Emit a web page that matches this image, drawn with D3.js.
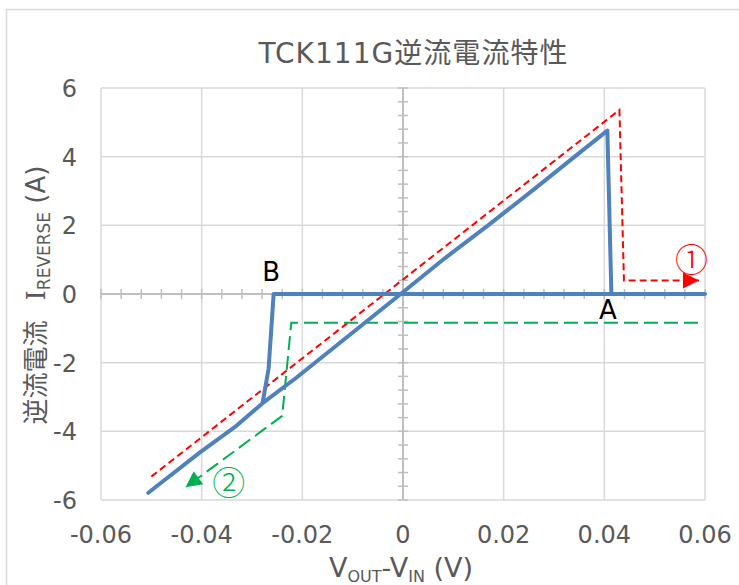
<!DOCTYPE html>
<html>
<head>
<meta charset="utf-8">
<script src="https://cdn.jsdelivr.net/npm/d3@7"></script>
<style>
  body { margin: 0; background: #fff; }
  text { font-family: "DejaVu Sans", "Noto Sans CJK JP", sans-serif; }
</style>
</head>
<body>
<script>
// data
const xTicks = [-0.06, -0.04, -0.02, 0, 0.02, 0.04, 0.06]
const yTicks = [-6, -4, -2, 0, 2, 4, 6]

// blue: measured curve, rising sweep
const riseX = [-0.0506, -0.0404, -0.0331, -0.0279, -0.0212, -0.0007, 0.0083, 0.0169, 0.0262, 0.0348, 0.0406, 0.0414, 0.06]
const riseY = [-5.79, -4.62, -3.84, -3.18, -2.44, -0.03, 1.04, 2.00, 3.07, 4.08, 4.76, 0.0, 0.0]
// blue: falling sweep branch
const fallX = [0.06, -0.0257, -0.0267, -0.0279]
const fallY = [0, 0, -2.17, -3.18]

// red dashed arrow (1)
const redX = [-0.050, 0.0430, 0.0439, 0.0588]
const redY = [-5.32, 5.36, 0.39, 0.39]
// green dashed arrow (2)
const greenX = [0.0586, -0.0222, -0.0240, -0.0432]
const greenY = [-0.84, -0.84, -3.55, -5.63]

const labelText = ['A', 'B', '①', '②']
const labelX = [0.0407, -0.0262, 0.0573, -0.0346]
const labelY = [-0.47, 0.64, 1.0, -5.52]
const labelColor = ['#000', '#000', '#ff0000', '#00b050']

draw()

function draw() {
  const width = 739
  const height = 585
  const margin = {top: 88, bottom: 85, left: 101, right: 34}

  const svg = d3.select('body').append('svg')
    .attr('width', width)
    .attr('height', height)

  // outer chart border
  svg.append('rect')
    .attr('x', 6.5).attr('y', 9.5)
    .attr('width', 760).attr('height', 600)
    .attr('fill', 'none')
    .attr('stroke', '#d9d9d9')
    .attr('stroke-width', 1.5)

  const xScale = d3.scaleLinear()
    .domain([-0.06, 0.06])
    .range([margin.left, width - margin.right])

  const yScale = d3.scaleLinear()
    .domain([-6, 6])
    .range([height - margin.bottom, margin.top])

  // grid
  svg.append('g').selectAll('line')
    .data(xTicks)
    .enter()
    .append('line')
    .attr('x1', d => xScale(d)).attr('x2', d => xScale(d))
    .attr('y1', yScale(6)).attr('y2', yScale(-6))
    .attr('stroke', '#d9d9d9').attr('stroke-width', 1.5)

  svg.append('g').selectAll('line')
    .data(yTicks)
    .enter()
    .append('line')
    .attr('x1', xScale(-0.06)).attr('x2', xScale(0.06))
    .attr('y1', d => yScale(d)).attr('y2', d => yScale(d))
    .attr('stroke', '#d9d9d9').attr('stroke-width', 1.5)

  // axes through the origin, with crossing minor ticks
  const axisColor = '#bfbfbf'
  const xMinor = d3.range(-0.06, 0.0601, 0.004)
  const yMinor = d3.range(-6, 6.01, 0.4)

  svg.append('line')
    .attr('x1', xScale(-0.06)).attr('x2', xScale(0.06))
    .attr('y1', yScale(0)).attr('y2', yScale(0))
    .attr('stroke', axisColor).attr('stroke-width', 2)
  svg.append('g').selectAll('line')
    .data(xMinor)
    .enter()
    .append('line')
    .attr('x1', d => xScale(d)).attr('x2', d => xScale(d))
    .attr('y1', yScale(0) - 5).attr('y2', yScale(0) + 5)
    .attr('stroke', axisColor).attr('stroke-width', 1.5)

  svg.append('line')
    .attr('x1', xScale(0)).attr('x2', xScale(0))
    .attr('y1', yScale(6)).attr('y2', yScale(-6))
    .attr('stroke', axisColor).attr('stroke-width', 2)
  svg.append('g').selectAll('line')
    .data(yMinor)
    .enter()
    .append('line')
    .attr('x1', xScale(0) - 5).attr('x2', xScale(0) + 5)
    .attr('y1', d => yScale(d)).attr('y2', d => yScale(d))
    .attr('stroke', axisColor).attr('stroke-width', 1.5)

  // tick labels
  svg.append('g').selectAll('text')
    .data(xTicks)
    .enter()
    .append('text')
    .attr('x', d => xScale(d))
    .attr('y', 543)
    .attr('text-anchor', 'middle')
    .attr('font-size', 24)
    .attr('fill', '#595959')
    .text(d => d === 0 ? '0' : d.toFixed(2))

  svg.append('g').selectAll('text')
    .data(yTicks)
    .enter()
    .append('text')
    .attr('x', 77)
    .attr('y', d => yScale(d) + 9)
    .attr('text-anchor', 'end')
    .attr('font-size', 24)
    .attr('fill', '#595959')
    .text(d => d)

  // title
  svg.append('text')
    .attr('x', 413)
    .attr('y', 63)
    .attr('text-anchor', 'middle')
    .attr('font-size', 28)
    .attr('fill', '#595959')
    .attr('textLength', 309)
    .text('TCK111G逆流電流特性')

  // axis titles
  const xt = svg.append('text')
    .attr('x', 401)
    .attr('y', 577)
    .attr('text-anchor', 'middle')
    .attr('font-size', 27)
    .attr('fill', '#595959')
  xt.append('tspan').text('V')
  xt.append('tspan').attr('font-size', 16).attr('dy', 5).text('OUT')
  xt.append('tspan').attr('dy', -5).text('-V')
  xt.append('tspan').attr('font-size', 16).attr('dy', 5).text('IN')
  xt.append('tspan').attr('dy', -5).text(' (V)')

  const yt = svg.append('text')
    .attr('transform', 'translate(45, 295) rotate(-90)')
    .attr('text-anchor', 'middle')
    .attr('font-size', 26)
    .attr('fill', '#595959')
  yt.append('tspan').text('逆流電流')
  yt.append('tspan').attr('dx', 20).attr('font-family', '"DejaVu Serif", serif').text('I')
  yt.append('tspan').attr('font-size', 17).attr('dy', 5).text('REVERSE')
  yt.append('tspan').attr('dy', -5).text(' (A)')

  // arrow markers
  const defs = svg.append('defs')
  const markers = [['arrowRed', '#ff0000'], ['arrowGreen', '#00b050']]
  markers.forEach(m => {
    defs.append('marker')
      .attr('id', m[0])
      .attr('markerUnits', 'userSpaceOnUse')
      .attr('markerWidth', 18).attr('markerHeight', 18)
      .attr('viewBox', '0 0 18 18')
      .attr('refX', 17).attr('refY', 9)
      .attr('orient', 'auto')
      .append('path')
      .attr('d', 'M1,1 L17,9 L1,17 Z')
      .attr('fill', m[1])
  })

  const line = d3.line()
    .x(d => xScale(d[0]))
    .y(d => yScale(d[1]))

  svg.append('path')
    .datum(d3.zip(redX, redY))
    .attr('d', line)
    .attr('fill', 'none')
    .attr('stroke', '#ff0000')
    .attr('stroke-width', 2)
    .attr('stroke-dasharray', '7,4')
    .attr('marker-end', 'url(#arrowRed)')

  svg.append('path')
    .datum(d3.zip(greenX, greenY))
    .attr('d', line)
    .attr('fill', 'none')
    .attr('stroke', '#00b050')
    .attr('stroke-width', 2)
    .attr('stroke-dasharray', '14,6')
    .attr('marker-end', 'url(#arrowGreen)')

  // measured curve
  const blue = '#4f81bd'
  svg.append('path')
    .datum(d3.zip(riseX, riseY))
    .attr('d', line)
    .attr('fill', 'none')
    .attr('stroke', blue)
    .attr('stroke-width', 4)
    .attr('stroke-linejoin', 'round')
    .attr('stroke-linecap', 'round')

  svg.append('path')
    .datum(d3.zip(fallX, fallY))
    .attr('d', line)
    .attr('fill', 'none')
    .attr('stroke', blue)
    .attr('stroke-width', 4)
    .attr('stroke-linejoin', 'round')

  // annotations
  svg.append('g').selectAll('text')
    .data(labelText)
    .enter()
    .append('text')
    .attr('x', (d, i) => xScale(labelX[i]))
    .attr('y', (d, i) => yScale(labelY[i]))
    .attr('dy', '0.36em')
    .attr('text-anchor', 'middle')
    .attr('font-size', (d, i) => i < 2 ? 26 : 33)
    .attr('font-weight', (d, i) => i < 2 ? 400 : 300)
    .attr('font-family', (d, i) => i < 2 ? null : '"Noto Sans CJK JP"')
    .attr('fill', (d, i) => labelColor[i])
    .text(d => d)
}
</script>
</body>
</html>
